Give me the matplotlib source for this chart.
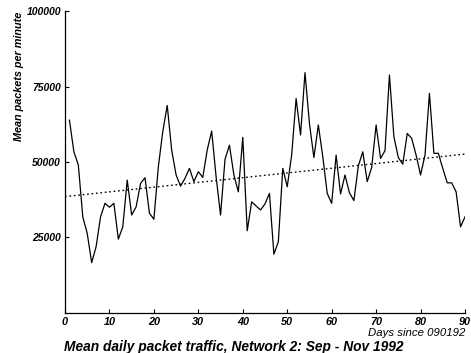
import numpy as np
import matplotlib
matplotlib.use("Agg")
import matplotlib.pyplot as plt

days = list(range(1, 91))
packets = [
    63900, 53400, 49000, 31800, 26300, 16600, 21900, 31800, 36300, 35000,
    36300, 24400, 28500, 44000, 32400, 35100, 42900, 44800, 33000, 31000,
    48400, 60100, 68800, 54000, 45700, 42000, 44600, 47900, 43500, 46800,
    44900, 54000, 60300, 45100, 32400, 50900, 55600, 45700, 40100, 58200,
    27200, 36800, 35400, 34100, 36100, 39600, 19400, 23500, 47900, 41800,
    52300, 71100, 59000, 79700, 62800, 51500, 62300, 51800, 39600, 36300,
    52300, 39400, 45700, 39800, 37200, 48700, 53400, 43500, 48200, 62300,
    51200, 53800, 78900, 58400, 51500, 49300, 59500, 57900, 52300, 45700,
    52300, 72800, 52900, 52900, 47900, 43100, 43100, 40100, 28500, 31800,
]
xticks = [0, 10, 20, 30, 40, 50, 60, 70, 80, 90]
yticks = [25000, 50000, 75000, 100000]

plt.rcParams['font.family'] = ['Liberation Sans', 'DejaVu Sans']

fig = plt.figure(figsize=(4.71, 3.53), dpi=100)
ax = fig.add_axes([65/471, 1 - 312.6/353, 400/471, 301.1/353])

ax.plot(days, packets, color='black', lw=0.9)
coef = np.polyfit(days, packets, 1)
tx = np.array([0, 90])
ax.plot(tx, np.polyval(coef, tx), color='black', lw=1.0, linestyle=(0, (1.2, 2.0)))

ax.set_xlim(0, 90)
ax.set_ylim(0, 100000)
ax.set_xticks(xticks)
ax.set_yticks(yticks)
ax.set_xticklabels([str(v) for v in xticks], fontsize=7.8, fontweight='bold', fontstyle='italic')
ax.set_yticklabels([str(v) for v in yticks], fontsize=7.5, fontweight='bold', fontstyle='italic')
ax.tick_params(direction='in', length=3, width=0.8, pad=3)
for s in ['top', 'right']:
    ax.spines[s].set_visible(False)
for s in ['left', 'bottom']:
    ax.spines[s].set_linewidth(0.9)

ax.set_ylabel('Mean packets per minute', fontsize=7.8, fontweight='bold', fontstyle='italic')
ax.yaxis.set_label_coords(-51/400, 1.0)
ax.yaxis.label.set_va('top')
ax.yaxis.label.set_ha('right')

fig.text(465/471, 1 - 333/353, 'Days since 090192', ha='right', va='center', fontsize=8.2, fontstyle='italic')
fig.text(234/471, 1 - 346.5/353, 'Mean daily packet traffic, Network 2: Sep - Nov 1992', ha='center', va='center',
         fontsize=9.9, fontweight='bold', fontstyle='italic')
fig.savefig('out.png', dpi=100)
